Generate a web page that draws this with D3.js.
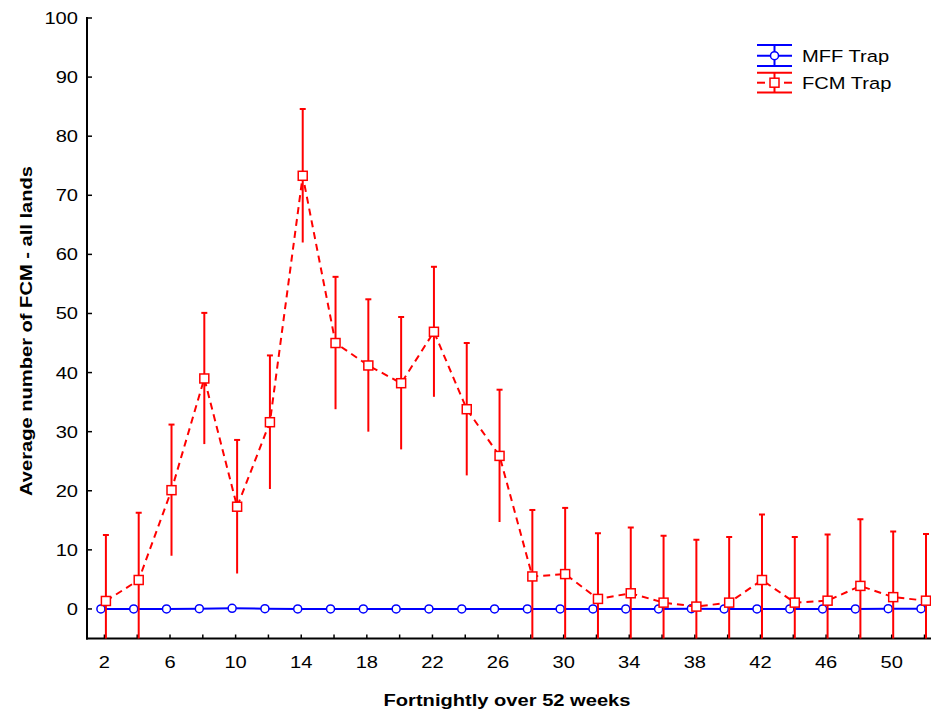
<!DOCTYPE html>
<html>
<head>
<meta charset="utf-8">
<script src="https://cdn.jsdelivr.net/npm/d3@7"></script>
<style>
  body { margin: 0; background: #fff; }
  svg { display: block; }
  text { font-family: "Liberation Sans", Arial, sans-serif; fill: #000; }
</style>
</head>
<body>
<div id="chart"></div>
<script>
// fortnight index (x)
var weeks = [2, 4, 6, 8, 10, 12, 14, 16, 18, 20, 22, 24, 26,
             28, 30, 32, 34, 36, 38, 40, 42, 44, 46, 48, 50, 52];

// FCM trap means and error
var fcmMeans = [1.35, 4.9, 20.1, 39.0, 17.3, 31.6, 73.3, 45.0, 41.2, 38.2, 46.9, 33.8, 25.9,
                5.5, 5.9, 1.7, 2.65, 1.07, 0.4, 1.07, 4.9, 1.07, 1.4, 3.9, 2.0, 1.4];
var fcmErr = [11.15, 11.4, 11.1, 11.1, 11.3, 11.3, 11.3, 11.2, 11.2, 11.2, 11.0, 11.2, 11.2,
              11.25, 11.2, 11.1, 11.15, 11.3, 11.3, 11.1, 11.1, 11.1, 11.2, 11.3, 11.1, 11.3];

// MFF trap means and error
var mffMeans = [0, 0, 0, 0.05, 0.1, 0.05, 0, 0, 0, 0, 0, 0, 0,
                0, 0, 0, 0, 0, 0.05, 0, 0, 0, 0, 0, 0.05, 0.05];
var mffErr = [0.2, 0.2, 0.2, 0.2, 0.2, 0.2, 0.2, 0.2, 0.2, 0.2, 0.2, 0.2, 0.2,
              0.2, 0.2, 0.2, 0.2, 0.2, 0.2, 0.2, 0.2, 0.2, 0.2, 0.2, 0.2, 0.2];

var xTicks = d3.range(2, 53, 2);
var xLabels = [2, 6, 10, 14, 18, 22, 26, 30, 34, 38, 42, 46, 50];
var yTicks = [0, 10, 20, 30, 40, 50, 60, 70, 80, 90, 100];

var seriesNames = ["MFF Trap", "FCM Trap"];

var width = 931, height = 713;
var stretch = 1.17;   // the original text is a bit wide
var fontSize = 17.2;

var x = d3.scaleLinear().domain([1, 52]).range([88, 924.5]);
var y = d3.scaleLinear().domain([-5, 100]).range([638.5, 18]);
var plotLeft = 87, plotRight = width, plotTop = 18, plotBottom = 638.5;

var svg = d3.select("#chart").append("svg")
    .attr("width", width)
    .attr("height", height);

svg.append("defs").append("clipPath")
    .attr("id", "plotclip")
    .append("rect")
    .attr("x", plotLeft).attr("y", plotTop)
    .attr("width", plotRight - plotLeft).attr("height", plotBottom - plotTop);

function stretchedText(g, tx, ty, str, anchor, bold, rot) {
    return g.append("text")
        .attr("transform", `translate(${tx},${ty})` + (rot ? ` rotate(${rot})` : "") + ` scale(${stretch},1)`)
        .attr("text-anchor", anchor)
        .style("font-size", fontSize + "px")
        .style("font-weight", bold ? "bold" : "normal")
        .text(str);
}

// axes
var axisG = svg.append("g");
axisG.append("line")
    .attr("x1", plotLeft).attr("x2", plotLeft).attr("y1", plotTop - 1).attr("y2", plotBottom + 1)
    .attr("stroke", "#000").attr("stroke-width", 2);
axisG.append("line")
    .attr("x1", plotLeft - 1).attr("x2", plotRight).attr("y1", plotBottom).attr("y2", plotBottom)
    .attr("stroke", "#000").attr("stroke-width", 2);

axisG.selectAll(".ytick").data(yTicks).enter().append("line")
    .attr("x1", plotLeft).attr("x2", plotLeft + 5)
    .attr("y1", d => y(d)).attr("y2", d => y(d))
    .attr("stroke", "#000").attr("stroke-width", 1.5);
yTicks.forEach(d => stretchedText(axisG, 78, y(d) + 6, d, "end", false));

axisG.selectAll(".xtick").data(xTicks).enter().append("line")
    .attr("x1", d => x(d)).attr("x2", d => x(d))
    .attr("y1", plotBottom).attr("y2", plotBottom - 4)
    .attr("stroke", "#000").attr("stroke-width", 1.5);
xLabels.forEach(d => stretchedText(axisG, x(d), 668, d, "middle", false));

stretchedText(svg, 507, 706, "Fortnightly over 52 weeks", "middle", true);
stretchedText(svg, 31.5, 331, "Average number of FCM - all lands", "middle", true, -90);

// data
var plot = svg.append("g").attr("clip-path", "url(#plotclip)");

function drawSeries(means, errs, color, dx, dashed, marker) {
    var pts = weeks.map((w, i) => ({ w: w, m: means[i], e: errs[i] }));
    var g = plot.append("g");
    var px = d => x(d.w) + dx;

    g.selectAll(".err").data(pts).enter().append("line")
        .attr("x1", px).attr("x2", px)
        .attr("y1", d => y(d.m - d.e)).attr("y2", d => y(d.m + d.e))
        .attr("stroke", color).attr("stroke-width", 2);
    g.selectAll(".cap").data(pts).enter().append("line")
        .attr("x1", d => px(d) - 3).attr("x2", d => px(d) + 3)
        .attr("y1", d => y(d.m + d.e)).attr("y2", d => y(d.m + d.e))
        .attr("stroke", color).attr("stroke-width", 2);

    g.append("path")
        .datum(pts)
        .attr("d", d3.line().x(px).y(d => y(d.m)))
        .attr("fill", "none")
        .attr("stroke", color)
        .attr("stroke-width", 2)
        .attr("stroke-dasharray", dashed ? "7,5" : null);

    if (marker === "square") {
        g.selectAll(".mk").data(pts).enter().append("rect")
            .attr("x", d => px(d) - 4.5).attr("y", d => y(d.m) - 4.5)
            .attr("width", 9).attr("height", 9)
            .attr("fill", "#fff").attr("stroke", color).attr("stroke-width", 1.5);
    } else {
        g.selectAll(".mk").data(pts).enter().append("circle")
            .attr("cx", px).attr("cy", d => y(d.m)).attr("r", 4)
            .attr("fill", "#fff").attr("stroke", color).attr("stroke-width", 1.5);
    }
}

drawSeries(mffMeans, mffErr, "#0000ff", -3.5, false, "circle");
drawSeries(fcmMeans, fcmErr, "#ff0000", 1.5, true, "square");

// legend
var legend = svg.append("g");
var legendItems = [
    { name: seriesNames[0], color: "#0000ff", top: 45, mid: 55.7, bot: 66, dashed: false, marker: "circle" },
    { name: seriesNames[1], color: "#ff0000", top: 72.7, mid: 82.7, bot: 92.5, dashed: true, marker: "square" }
];
legendItems.forEach(it => {
    var lx1 = 757, lx2 = 792, cx = 774.5;
    [it.top, it.bot].forEach(yy => legend.append("line")
        .attr("x1", lx1).attr("x2", lx2).attr("y1", yy).attr("y2", yy)
        .attr("stroke", it.color).attr("stroke-width", 2));
    legend.append("line")
        .attr("x1", cx).attr("x2", cx).attr("y1", it.top).attr("y2", it.bot)
        .attr("stroke", it.color).attr("stroke-width", 2);
    if (it.dashed) {
        [[lx1, lx1 + 8], [lx2 - 8, lx2]].forEach(s => legend.append("line")
            .attr("x1", s[0]).attr("x2", s[1]).attr("y1", it.mid).attr("y2", it.mid)
            .attr("stroke", it.color).attr("stroke-width", 2));
        legend.append("rect")
            .attr("x", cx - 4.5).attr("y", it.mid - 4.5).attr("width", 9).attr("height", 9)
            .attr("fill", "#fff").attr("stroke", it.color).attr("stroke-width", 1.5);
    } else {
        legend.append("line")
            .attr("x1", lx1).attr("x2", lx2).attr("y1", it.mid).attr("y2", it.mid)
            .attr("stroke", it.color).attr("stroke-width", 2);
        legend.append("circle")
            .attr("cx", cx).attr("cy", it.mid).attr("r", 4)
            .attr("fill", "#fff").attr("stroke", it.color).attr("stroke-width", 1.5);
    }
    stretchedText(legend, 802, it.mid + 6, it.name, "start", false);
});
</script>
</body>
</html>
